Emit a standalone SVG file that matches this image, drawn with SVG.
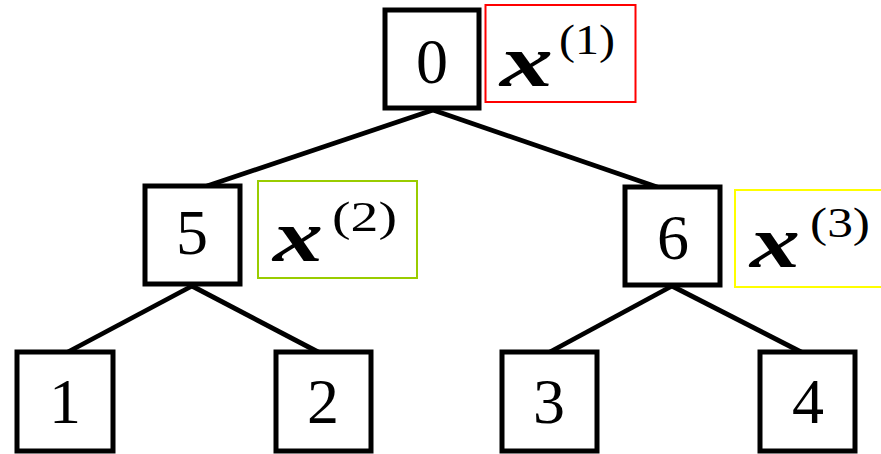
<svg xmlns="http://www.w3.org/2000/svg" width="881" height="454" viewBox="0 0 881 454">
<style>
.node rect{fill:#fff;stroke:#000;stroke-width:5}
.node text{font-family:'Liberation Serif','Times New Roman',Times,serif;font-size:64px;text-anchor:middle;fill:#000}
.lbl rect{fill:none;stroke-width:2}
.lbl .v{font-family:'Liberation Serif','Times New Roman',Times,serif;font-size:74px;font-weight:bold;font-style:italic;fill:#000}
.lbl .s{font-family:'Liberation Serif','Times New Roman',Times,serif;font-size:43px;fill:#000}
#edges line{stroke:#000;stroke-width:4.8}
</style>
<g id="edges">
<line x1="433" y1="110" x2="207" y2="186"/>
<line x1="433" y1="110" x2="660" y2="188"/>
<line x1="192" y1="286" x2="66" y2="353"/>
<line x1="192" y1="286" x2="320" y2="353"/>
<line x1="672" y1="286" x2="548" y2="353"/>
<line x1="672" y1="286" x2="803" y2="353"/>
</g>
<g id="n0" class="node"><rect x="385" y="10" width="94" height="98"/><text x="432" y="83">0</text></g>
<g id="n5" class="node"><rect x="145" y="186" width="95" height="98"/><text x="192" y="254">5</text></g>
<g id="n6" class="node"><rect x="625" y="187" width="95" height="98"/><text x="673" y="259">6</text></g>
<g id="n1" class="node"><rect x="17" y="352" width="96" height="99"/><text x="65" y="423">1</text></g>
<g id="n2" class="node"><rect x="276" y="352" width="95" height="99"/><text x="323" y="423">2</text></g>
<g id="n3" class="node"><rect x="502" y="352" width="95" height="99"/><text x="549" y="423">3</text></g>
<g id="n4" class="node"><rect x="760" y="352" width="95" height="99"/><text x="808" y="423">4</text></g>
<g id="l1" class="lbl"><rect x="485.5" y="5" width="150" height="97" stroke="#ff0000"/><text class="v" x="500" y="86" textLength="53" lengthAdjust="spacingAndGlyphs">x</text><text class="s" x="559" y="54" textLength="56" lengthAdjust="spacingAndGlyphs">(1)</text></g>
<g id="l2" class="lbl"><rect x="258" y="181" width="159" height="97" stroke="#99cc00"/><text class="v" x="273" y="261" textLength="50" lengthAdjust="spacingAndGlyphs">x</text><text class="s" x="332" y="231" textLength="65" lengthAdjust="spacingAndGlyphs">(2)</text></g>
<g id="l3" class="lbl"><rect x="735" y="190" width="150" height="97" stroke="#ffff00"/><text class="v" x="750" y="267" textLength="50" lengthAdjust="spacingAndGlyphs">x</text><text class="s" x="810" y="237" textLength="60" lengthAdjust="spacingAndGlyphs">(3)</text></g>
</svg>
